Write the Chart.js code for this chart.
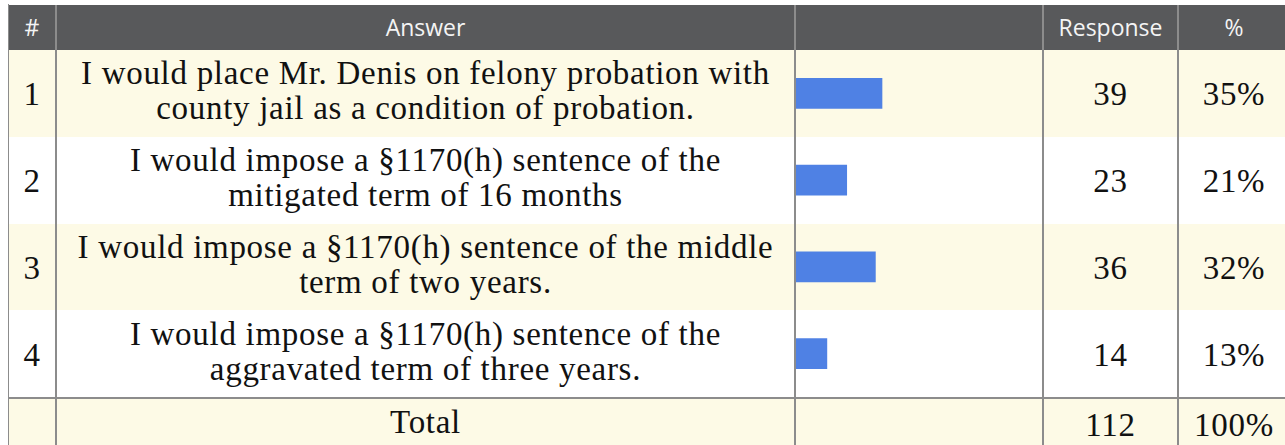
<!DOCTYPE html>
<html>
<head>
<meta charset="utf-8">
<script src="https://cdn.jsdelivr.net/npm/chart.js@4"></script>
<style>
  html, body { margin: 0; padding: 0; background: #fff; }
  body { width: 1285px; height: 445px; overflow: hidden; position: relative; }
  .row { position: absolute; left: 9px; width: 1290px; }
  .head { background: #58595b; }
  .yellow { background: #fdfae6; }
  .cell {
    position: absolute; display: flex; align-items: center; justify-content: center;
    text-align: center; white-space: pre-line; color: #111;
    font-family: "Liberation Serif", "DejaVu Serif", serif; font-size: 33px; line-height: 35px;
    letter-spacing: 0.7px; box-sizing: border-box; padding-top: 3px;
  }
  .cell.answer { padding-top: 0; padding-bottom: 4px; }
  .head .cell {
    color: #f4f4f4; font-family: "Open Sans", sans-serif; font-size: 23px;
    letter-spacing: 0; padding: 0 0 1px 0;
  }
  .vline { position: absolute; width: 2px; background: #8c8c8c; }
  #barBox { position: absolute; left: 796px; top: 50px; width: 247px; height: 347px; }
</style>
</head>
<body>
<div id="table"></div>
<div id="barBox"><canvas id="barChart" width="247" height="347"></canvas></div>
<script>
// ===== DADOS =====
const headers = ["#", "Answer", "", "Response", "%"];
const answers = [
  "I would place Mr. Denis on felony probation with\ncounty jail as a condition of probation.",
  "I would impose a §1170(h) sentence of the\nmitigated term of 16 months",
  "I would impose a §1170(h) sentence of the middle\nterm of two years.",
  "I would impose a §1170(h) sentence of the\naggravated term of three years."
];
const responses = [39, 23, 36, 14];
const percents = ["35%", "21%", "32%", "13%"];
const total = 112;
const totalPct = "100%";

// colunas (x, largura) relativas a tabela
const cols = [[0, 46], [48, 737], [787, 247], [1035, 133], [1170, 110]];
const seps = [46, 785, 1033, 1168];

const table = document.getElementById("table");

function addRow(top, height, cls, values) {
  const row = document.createElement("div");
  row.className = "row " + cls;
  row.style.top = top + "px";
  row.style.height = height + "px";
  values.forEach((v, i) => {
    const c = document.createElement("div");
    c.className = i === 1 ? "cell answer" : "cell";
    c.style.left = cols[i][0] + "px";
    c.style.width = cols[i][1] + "px";
    c.style.top = "0px";
    c.style.height = height + "px";
    c.textContent = v;
    row.appendChild(c);
  });
  seps.forEach(x => {
    const l = document.createElement("div");
    l.className = "vline";
    l.style.left = x + "px";
    l.style.top = "0px";
    l.style.height = height + "px";
    row.appendChild(l);
  });
  table.appendChild(row);
}

addRow(5, 45, "head", headers);
const rowH = 86.75;
answers.forEach((a, i) => {
  addRow(50 + i * rowH, rowH, i % 2 === 0 ? "yellow" : "",
    [String(i + 1), a, "", String(responses[i]), percents[i]]);
});
addRow(399, 50, "yellow", ["", "Total", "", String(total), totalPct]);

// linha horizontal antes do total
const hline = document.createElement("div");
hline.style.cssText = "position:absolute;left:9px;top:397px;width:1290px;height:2px;background:#8c8c8c;";
table.appendChild(hline);
// borda esquerda
const lb = document.createElement("div");
lb.style.cssText = "position:absolute;left:8px;top:4px;width:1px;height:445px;background:#8c8c8c;";
table.appendChild(lb);

// ===== GRAFICO DE BARRAS =====
new Chart(document.getElementById("barChart"), {
  type: "bar",
  data: {
    labels: answers.map((a, i) => String(i + 1)),
    datasets: [{
      data: responses,
      backgroundColor: "#4f81e4",
      barThickness: 30
    }]
  },
  options: {
    indexAxis: "y",
    responsive: false,
    animation: false,
    layout: { padding: 0 },
    plugins: { legend: { display: false }, tooltip: { enabled: false } },
    scales: {
      x: { display: false, min: 0, max: total },
      y: { display: false }
    }
  }
});
</script>
</body>
</html>
